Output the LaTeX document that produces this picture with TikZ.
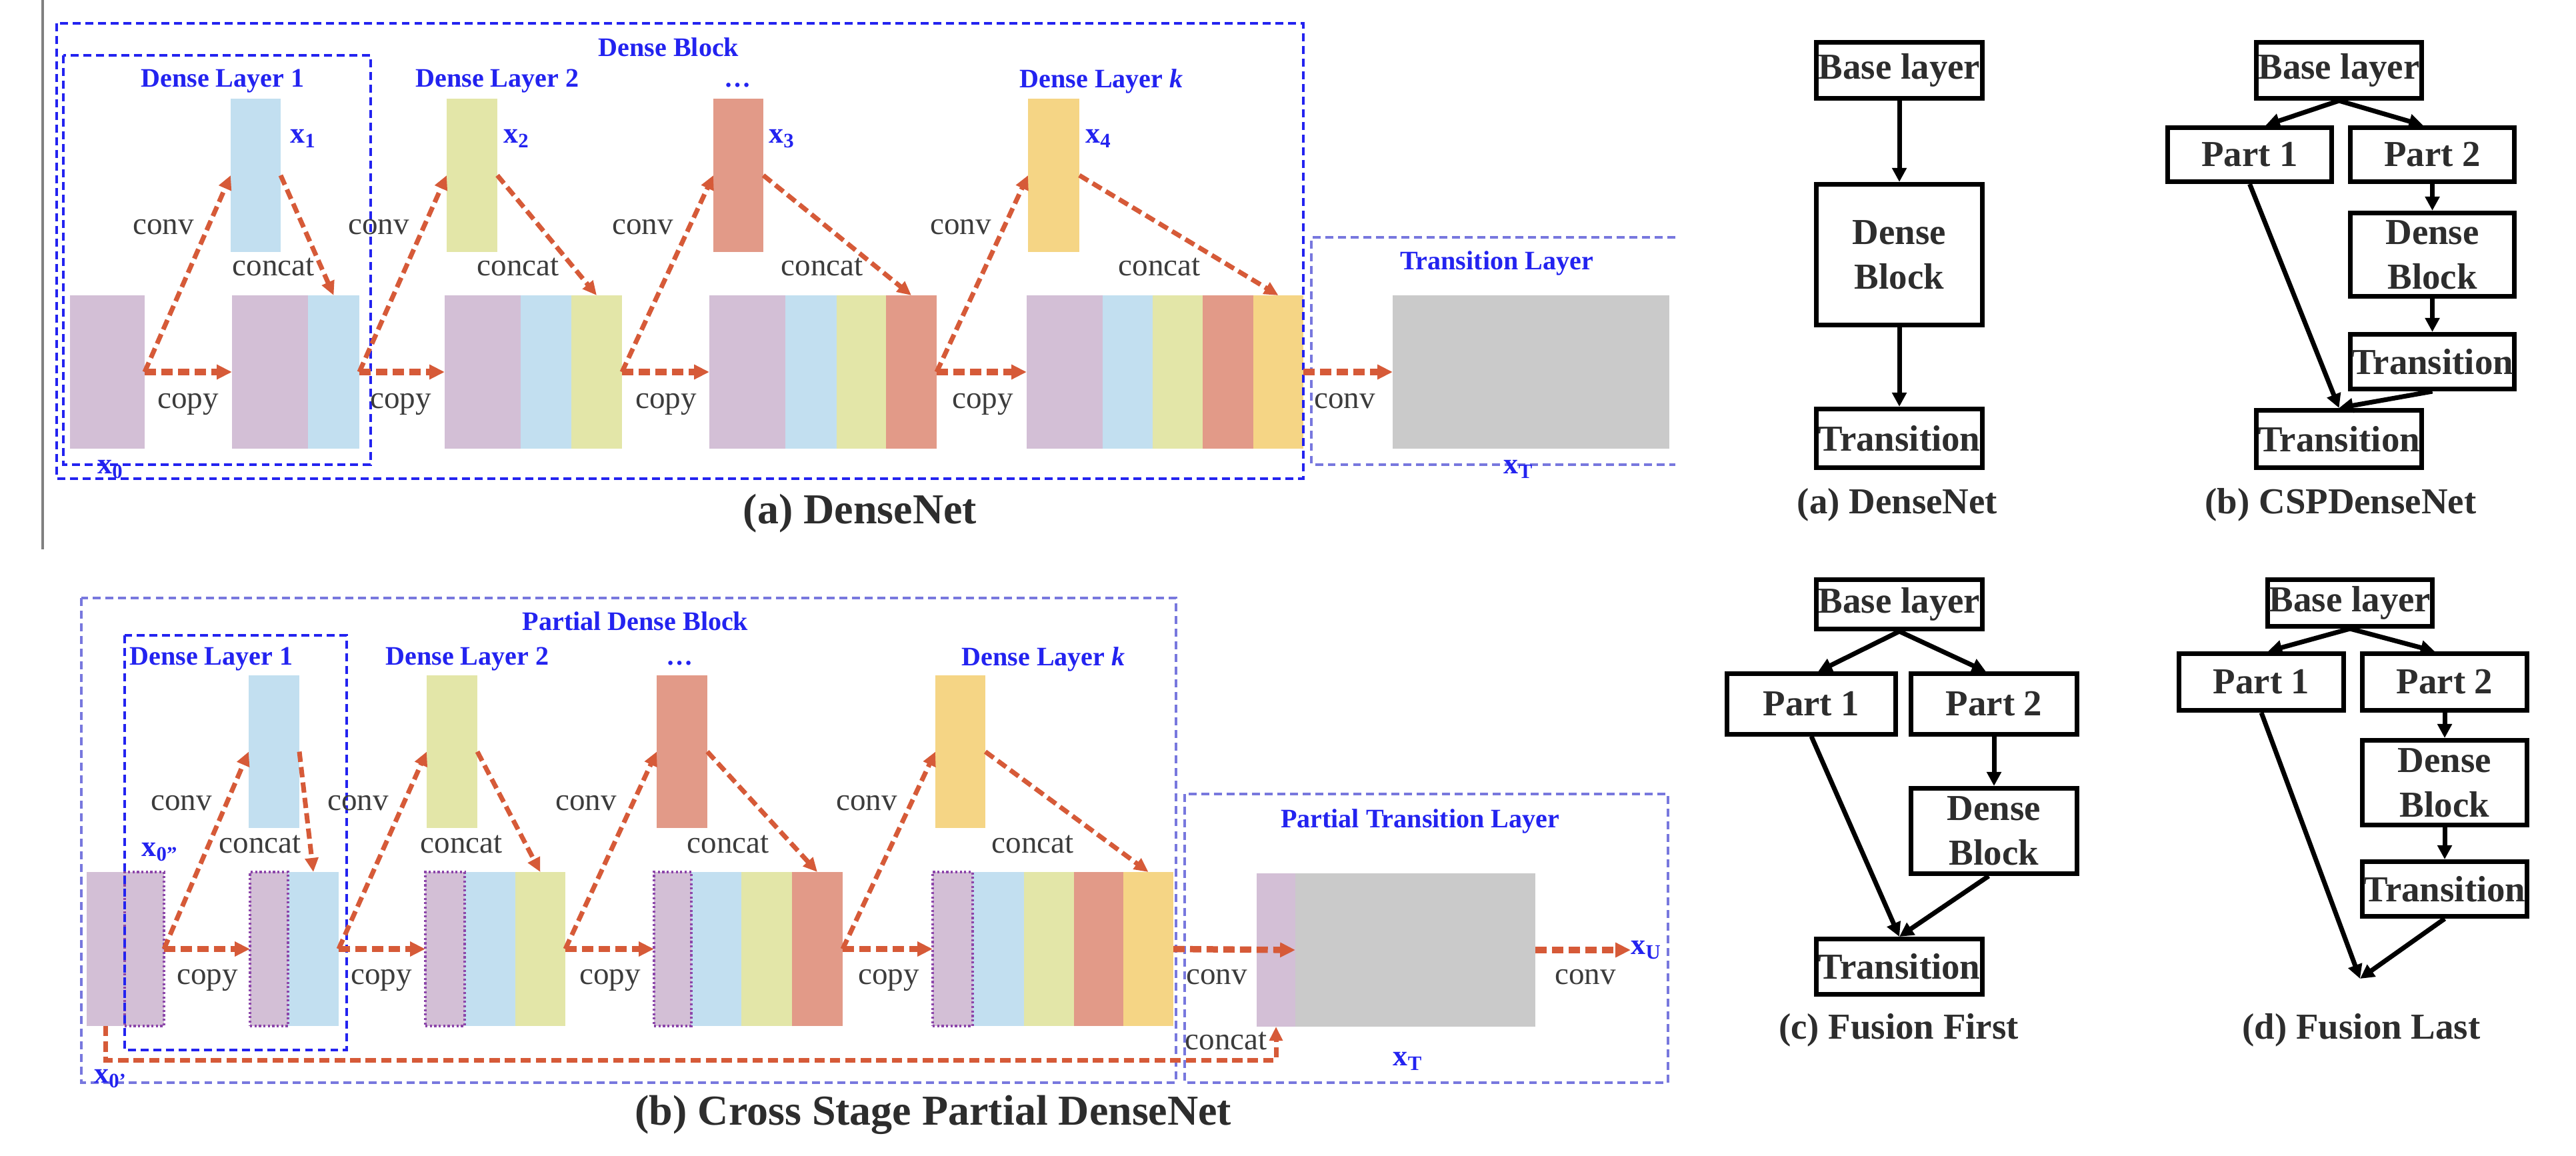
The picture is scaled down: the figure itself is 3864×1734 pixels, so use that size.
\documentclass[tikz,border=0pt]{standalone}
\usepackage{fontspec}
\setmainfont{Liberation Serif}
\usetikzlibrary{arrows.meta,calc}
\definecolor{cP}{RGB}{211,191,214}
\definecolor{cB}{RGB}{194,223,240}
\definecolor{cG}{RGB}{227,230,168}
\definecolor{cR}{RGB}{226,154,136}
\definecolor{cO}{RGB}{245,213,133}
\definecolor{cGr}{RGB}{202,202,202}
\definecolor{arr}{RGB}{214,90,56}
\definecolor{bl}{RGB}{35,35,240}
\definecolor{lav}{RGB}{120,120,222}
\definecolor{txt}{RGB}{60,60,60}
\definecolor{dk}{RGB}{45,45,45}
\definecolor{pdc}{RGB}{140,70,170}
\newcommand\blk[6]{%
 \pgfmathsetmacro\bw{(#4-#2)*0.01}%
 \pgfmathsetmacro\bh{(#5-#3)*0.01}%
 \node[blk,#6,minimum width=\bw cm,minimum height=\bh cm] (#1) at ({(#2+#4)/2},{(#3+#5)/2}) {};}
\tikzset{
 blk/.style={inner sep=0pt,outer sep=0pt,draw=none},
 pd/.style={draw=pdc,densely dotted,line width=0.9pt},
 fa/.style={draw=arr,line width=2pt,dash pattern=on 4.4pt off 2.2pt,-{Triangle[length=6pt,width=5.5pt]}},
 fah/.style={draw=arr,line width=2.7pt,dash pattern=on 4.8pt off 2.3pt,-{Triangle[length=6.5pt,width=6pt]}},
 dbox/.style={dash pattern=on 3.4pt off 2pt,line width=0.9pt},
 lbl/.style={font=\fontsize{13.4}{15}\selectfont,text=txt,inner sep=0pt},
 bt/.style={font=\bfseries\fontsize{11.4}{13}\selectfont,text=bl,inner sep=0pt},
 xl/.style={font=\bfseries\fontsize{12.5}{14}\selectfont,text=bl,inner sep=0pt},
 capt/.style={font=\bfseries\fontsize{18.2}{20}\selectfont,text=dk,inner sep=0pt},
 fb/.style={draw=black,line width=2pt,inner sep=0pt,font=\bfseries\fontsize{15.6}{19}\selectfont,text=dk,align=center},
 fcap/.style={font=\bfseries\fontsize{15.6}{17}\selectfont,text=dk,inner sep=0pt},
 fl/.style={line width=2pt,-{Triangle[length=6pt,width=6pt]}}
}
\begin{document}
\begin{tikzpicture}[x=0.01cm,y=-0.01cm]
\useasboundingbox (0,0) rectangle (3864,1734);
\fill[white] (0,0) rectangle (3864,1734);
\draw[gray,line width=1pt] (64,0) -- (64,824);

% ---------------- (a) DenseNet ----------------
\blk{a0}{105}{443}{217}{673}{fill=cP}
\blk{ax1}{346}{148}{421}{378}{fill=cB}
\blk{a2P}{348}{443}{462}{673}{fill=cP}
\blk{a2B}{462}{443}{539}{673}{fill=cB}
\blk{ax2}{670}{148}{746}{378}{fill=cG}
\blk{a3P}{667}{443}{781}{673}{fill=cP}
\blk{a3B}{781}{443}{857}{673}{fill=cB}
\blk{a3G}{857}{443}{933}{673}{fill=cG}
\blk{ax3}{1070}{148}{1145}{378}{fill=cR}
\blk{a4P}{1064}{443}{1178}{673}{fill=cP}
\blk{a4B}{1178}{443}{1255}{673}{fill=cB}
\blk{a4G}{1255}{443}{1329}{673}{fill=cG}
\blk{a4R}{1329}{443}{1405}{673}{fill=cR}
\blk{ax4}{1542}{148}{1619}{378}{fill=cO}
\blk{a5P}{1540}{443}{1654}{673}{fill=cP}
\blk{a5B}{1654}{443}{1729}{673}{fill=cB}
\blk{a5G}{1729}{443}{1804}{673}{fill=cG}
\blk{a5R}{1804}{443}{1880}{673}{fill=cR}
\blk{a5O}{1880}{443}{1955}{673}{fill=cO}
\blk{aT}{2089}{443}{2504}{673}{fill=cGr}

\draw[bl,dbox] (85,35) rectangle (1955,718);
\draw[bl,dbox] (95,83) rectangle (556,697);
\draw[lav,dbox] (2513,356) -- (1967,356) -- (1967,697) -- (2513,697);

\node[bt] (aDB) at (1003,71) {Dense Block};
\node[bt] (aL1) at (334,122) {Dense Layer 1};
\node[bt] (aL2) at (746,122) {Dense Layer 2};
\node[bt] (aLd) at (1107,128) {…};
\node[bt] (aLk) at (1652,122) {Dense Layer \textit{k}};
\node[bt] (aTL) at (2245,395) {Transition Layer};
\node[xl] (lx1) at (455,208) {x\textsubscript{1}};
\node[xl] (lx2) at (775,208) {x\textsubscript{2}};
\node[xl] (lx3) at (1173,208) {x\textsubscript{3}};
\node[xl] (lx4) at (1648,208) {x\textsubscript{4}};
\node[xl] (lx0) at (166,704) {x\textsubscript{0}};
\node[xl] (lxT) at (2278,704) {x\textsubscript{T}};

\draw[fah] (a0.east) -- (a2P.west);
\draw[fa] (a0.east) -- (ax1.west);
\draw[fa] (ax1.east) -- (a2B.north);
\draw[fah] (a2B.east) -- (a3P.west);
\draw[fa] (a2B.east) -- (ax2.west);
\draw[fa] (ax2.east) -- (a3G.north);
\draw[fah] (a3G.east) -- (a4P.west);
\draw[fa] (a3G.east) -- (ax3.west);
\draw[fa] (ax3.east) -- (a4R.north);
\draw[fah] (a4R.east) -- (a5P.west);
\draw[fa] (a4R.east) -- (ax4.west);
\draw[fa] (ax4.east) -- (a5O.north);
\draw[fah] (a5O.east) -- (aT.west);

\node[lbl] at (245,341) {conv};
\node[lbl] at (568,341) {conv};
\node[lbl] at (964,341) {conv};
\node[lbl] at (1441,341) {conv};
\node[lbl] at (410,400) {concat};
\node[lbl] at (777,400) {concat};
\node[lbl] at (1233,400) {concat};
\node[lbl] at (1739,400) {concat};
\node[lbl] at (282,606) {copy};
\node[lbl] at (601,606) {copy};
\node[lbl] at (999,606) {copy};
\node[lbl] at (1474,606) {copy};
\node[lbl] at (2017,602) {conv};
\node[capt] (capa) at (1290,770) {(a) DenseNet};

% ---------------- (b) CSPDenseNet ----------------
\blk{b0a}{130}{1308}{187}{1539}{fill=cP}
\blk{b0b}{187}{1308}{246}{1539}{fill=cP,pd}
\blk{bx1}{373}{1013}{449}{1242}{fill=cB}
\blk{b2B}{432}{1308}{508}{1539}{fill=cB}
\blk{b2P}{375}{1308}{432}{1539}{fill=cP,pd}
\blk{bx2}{640}{1013}{716}{1242}{fill=cG}
\blk{b3B}{697}{1308}{773}{1539}{fill=cB}
\blk{b3G}{773}{1308}{848}{1539}{fill=cG}
\blk{b3P}{638}{1308}{697}{1539}{fill=cP,pd}
\blk{bx3}{985}{1013}{1061}{1242}{fill=cR}
\blk{b4B}{1037}{1308}{1112}{1539}{fill=cB}
\blk{b4G}{1112}{1308}{1188}{1539}{fill=cG}
\blk{b4R}{1188}{1308}{1264}{1539}{fill=cR}
\blk{b4P}{981}{1308}{1037}{1539}{fill=cP,pd}
\blk{bx4}{1403}{1013}{1478}{1242}{fill=cO}
\blk{b5B}{1459}{1308}{1536}{1539}{fill=cB}
\blk{b5G}{1536}{1308}{1611}{1539}{fill=cG}
\blk{b5R}{1611}{1308}{1685}{1539}{fill=cR}
\blk{b5O}{1685}{1308}{1760}{1539}{fill=cO}
\blk{b5P}{1399}{1308}{1459}{1539}{fill=cP,pd}
\blk{bTP}{1885}{1310}{1943}{1540}{fill=cP}
\blk{bTG}{1943}{1310}{2303}{1540}{fill=cGr}

\draw[lav,dbox] (122,897) rectangle (1764,1624);
\draw[bl,dbox] (187,953) rectangle (520,1575);
\draw[lav,dbox] (1777,1191) rectangle (2502,1624);

\node[bt] (bDB) at (953,932) {Partial Dense Block};
\node[bt] (bL1) at (317,989) {Dense Layer 1};
\node[bt] (bL2) at (701,989) {Dense Layer 2};
\node[bt] (bLd) at (1020,995) {…};
\node[bt] (bLk) at (1565,989) {Dense Layer \textit{k}};
\node[bt] (bTL) at (2130,1232) {Partial Transition Layer};
\node[xl] (lx0b) at (240,1278) {x\textsubscript{0”}};
\node[xl] (lx0a) at (166,1618) {x\textsubscript{0’}};
\node[xl] (lxTb) at (2112,1592) {x\textsubscript{T}};
\node[xl,anchor=west] (lxU) at (2446,1425) {x\textsubscript{U}};

\draw[fah] (b0b.east) -- (b2P.west);
\draw[fa] (b0b.east) -- (bx1.west);
\draw[fa] (bx1.east) -- (b2B.north);
\draw[fah] (b2B.east) -- (b3P.west);
\draw[fa] (b2B.east) -- (bx2.west);
\draw[fa] (bx2.east) -- (b3G.north);
\draw[fah] (b3G.east) -- (b4P.west);
\draw[fa] (b3G.east) -- (bx3.west);
\draw[fa] (bx3.east) -- (b4R.north);
\draw[fah] (b4R.east) -- (b5P.west);
\draw[fa] (b4R.east) -- (bx4.west);
\draw[fa] (bx4.east) -- (b5O.north);
\draw[fah] (b5O.east) -- (bTP.east);
\draw[fah] (bTG.east) -- (lxU.west);
\draw[fa] (b0a.south) |- ($(bTP.south)+(0,50)$) -- (bTP.south);

\node[lbl] at (272,1205) {conv};
\node[lbl] at (537,1205) {conv};
\node[lbl] at (879,1205) {conv};
\node[lbl] at (1300,1205) {conv};
\node[lbl] at (390,1266) {concat};
\node[lbl] at (692,1266) {concat};
\node[lbl] at (1092,1266) {concat};
\node[lbl] at (1549,1266) {concat};
\node[lbl] at (311,1470) {copy};
\node[lbl] at (572,1470) {copy};
\node[lbl] at (915,1470) {copy};
\node[lbl] at (1333,1470) {copy};
\node[lbl] at (1825,1466) {conv};
\node[lbl] at (2378,1466) {conv};
\node[lbl] at (1839,1561) {concat};
\node[capt] (capb) at (1400,1672) {(b) Cross Stage Partial DenseNet};

% ---------------- right: (a) DenseNet ----------------
\node[fb,minimum width=2.49cm,minimum height=0.84cm] (Ab) at (2849,105.5) {Base layer};
\node[fb,minimum width=2.49cm,minimum height=2.11cm] (Ad) at (2849,382) {Dense\\Block};
\node[fb,minimum width=2.49cm,minimum height=0.88cm] (At) at (2849,657.5) {Transition};
\draw[fl] (Ab.south) -- (Ad.north);
\draw[fl] (Ad.south) -- (At.north);
\node[fcap] at (2846,757) {(a) DenseNet};

% ---------------- right: (b) CSPDenseNet ----------------
\node[fb,minimum width=2.48cm,minimum height=0.84cm] (Bb) at (3508.5,105.5) {Base layer};
\node[fb,minimum width=2.46cm,minimum height=0.81cm] (Bp1) at (3374.5,232) {Part 1};
\node[fb,minimum width=2.46cm,minimum height=0.81cm] (Bp2) at (3648.5,232) {Part 2};
\node[fb,minimum width=2.46cm,minimum height=1.25cm] (Bd) at (3648.5,382) {Dense\\Block};
\node[fb,minimum width=2.46cm,minimum height=0.82cm] (Btr) at (3648.5,542.5) {Transition};
\node[fb,minimum width=2.48cm,minimum height=0.86cm] (Btf) at (3508.5,658.5) {Transition};
\draw[fl] (Bb.south) -- ([xshift=0.24cm]Bp1.north);
\draw[fl] (Bb.south) -- ([xshift=-0.14cm]Bp2.north);
\draw[fl] (Bp2.south) -- (Bd.north);
\draw[fl] (Bd.south) -- (Btr.north);
\draw[fl] (Bp1.south) -- (Btf.north);
\draw[fl] (Btr.south) -- (Btf.north);
\node[fcap] at (3511,757) {(b) CSPDenseNet};

% ---------------- right: (c) Fusion First ----------------
\node[fb,minimum width=2.49cm,minimum height=0.74cm] (Cb) at (2849,906.5) {Base layer};
\node[fb,minimum width=2.53cm,minimum height=0.90cm] (Cp1) at (2717,1056) {Part 1};
\node[fb,minimum width=2.49cm,minimum height=0.90cm] (Cp2) at (2991,1056) {Part 2};
\node[fb,minimum width=2.49cm,minimum height=1.28cm] (Cd) at (2991,1246.5) {Dense\\Block};
\node[fb,minimum width=2.49cm,minimum height=0.83cm] (Ct) at (2849,1450) {Transition};
\draw[fl] (Cb.south) -- ([xshift=0.1cm]Cp1.north);
\draw[fl] (Cb.south) -- ([xshift=-0.12cm]Cp2.north);
\draw[fl] (Cp2.south) -- (Cd.north);
\draw[fl] (Cp1.south) -- (Ct.north);
\draw[fl] ([xshift=-0.08cm]Cd.south) -- (Ct.north);
\node[fcap] at (2848,1545) {(c) Fusion First};

% ---------------- right: (d) Fusion Last ----------------
\node[fb,minimum width=2.47cm,minimum height=0.70cm] (Db) at (3525,904.5) {Base layer};
\node[fb,minimum width=2.47cm,minimum height=0.85cm] (Dp1) at (3392,1023) {Part 1};
\node[fb,minimum width=2.47cm,minimum height=0.85cm] (Dp2) at (3667,1023) {Part 2};
\node[fb,minimum width=2.47cm,minimum height=1.27cm] (Dd) at (3667,1174) {Dense\\Block};
\node[fb,minimum width=2.47cm,minimum height=0.82cm] (Dtr) at (3667,1333.5) {Transition};
\coordinate (Dm) at (3540,1468);
\draw[fl] (Db.south) -- ([xshift=0.1cm]Dp1.north);
\draw[fl] (Db.south) -- ([xshift=-0.15cm]Dp2.north);
\draw[fl] (Dp2.south) -- (Dd.north);
\draw[fl] (Dd.south) -- (Dtr.north);
\draw[fl] (Dp1.south) -- (Dm);
\draw[fl] (Dtr.south) -- (Dm);
\node[fcap] at (3542,1545) {(d) Fusion Last};
\end{tikzpicture}
\end{document}
